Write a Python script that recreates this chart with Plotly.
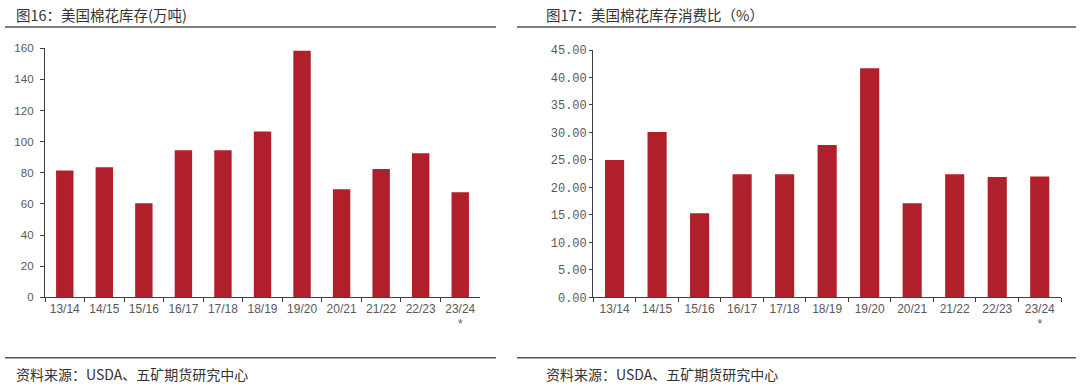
import plotly.graph_objects as go

categories = ["13/14", "14/15", "15/16", "16/17", "17/18", "18/19", "19/20", "20/21", "21/22", "22/23", "23/24"]
tick_labels = ["13/14", "14/15", "15/16", "16/17", "17/18", "18/19", "19/20", "20/21", "21/22", "22/23", "23/24<br>*"]
stocks = [81.5, 83.5, 60.5, 94.5, 94.5, 106.5, 158.5, 69.5, 82.5, 92.5, 67.5]
stock_use_ratio = [25.0, 30.1, 15.3, 22.4, 22.4, 27.7, 41.7, 17.1, 22.4, 21.9, 22.0]
y1_ticks = [0, 20, 40, 60, 80, 100, 120, 140, 160]
y2_ticks = [0, 5, 10, 15, 20, 25, 30, 35, 40, 45]
y2_tick_text = ["0.00", "5.00", "10.00", "15.00", "20.00", "25.00", "30.00", "35.00", "40.00", "45.00"]

W, H = 1080, 391
bar_color = "#B0202A"
axis_color = "#404040"
tick_font = dict(family="Liberation Sans, Arial, sans-serif", size=12, color="#595959")
cjk = "Noto Sans CJK SC"

fig = go.Figure()
fig.add_trace(go.Bar(x=categories, y=stocks, marker=dict(color=bar_color, line=dict(width=0)),
                     xaxis="x", yaxis="y", width=0.44))
fig.add_trace(go.Bar(x=categories, y=stock_use_ratio, marker=dict(color=bar_color, line=dict(width=0)),
                     xaxis="x2", yaxis="y2", width=0.45))

def px_x(p):
    return p / W

def px_y(p):
    return (H - p) / H

fig.update_layout(
    width=W, height=H, margin=dict(l=0, r=0, t=0, b=0, autoexpand=False),
    paper_bgcolor="white", plot_bgcolor="white", showlegend=False,
    xaxis=dict(domain=[px_x(45), px_x(480)], anchor="y", type="category",
               tickvals=categories, ticktext=tick_labels, tickson="boundaries",
               ticks="outside", ticklen=4, tickcolor=axis_color, showline=True,
               linecolor=axis_color, linewidth=1.3, tickfont=tick_font, showgrid=False,
               range=[-0.5, 10.5], automargin=False),
    yaxis=dict(domain=[px_y(297.3), px_y(48.3)], anchor="x", range=[0, 160],
               tickvals=y1_ticks, ticks="outside", ticklen=4, tickcolor=axis_color,
               showline=True, linecolor=axis_color, linewidth=1.3, showgrid=False,
               zeroline=False, tickfont=dict(tick_font, size=11.5), ticklabelstandoff=4,
               automargin=False),
    xaxis2=dict(domain=[px_x(593.3), px_x(1061)], anchor="y2", type="category",
                tickvals=categories, ticktext=tick_labels, tickson="boundaries",
                ticks="outside", ticklen=4, tickcolor=axis_color, showline=True,
                linecolor=axis_color, linewidth=1.3, tickfont=tick_font, showgrid=False,
                range=[-0.5, 10.5], automargin=False),
    yaxis2=dict(domain=[px_y(297.3), px_y(50)], anchor="x2", range=[0, 45],
                tickvals=y2_ticks, ticktext=y2_tick_text, ticks="outside", ticklen=3,
                tickcolor=axis_color, showline=True, linecolor=axis_color, linewidth=1.3,
                showgrid=False, zeroline=False, automargin=False,
                tickfont=dict(family="Liberation Mono, monospace", size=12, color="#595959")),
)

shapes = []
for x0, x1 in [(5, 496), (517, 1076)]:
    for yy in [27, 357.7]:
        shapes.append(dict(type="line", xref="paper", yref="paper",
                           x0=px_x(x0), x1=px_x(x1), y0=px_y(yy), y1=px_y(yy),
                           line=dict(color="#555555", width=1.5)))
fig.update_layout(shapes=shapes)

title_font = dict(family=cjk, size=14.5, color="#333333")
src_font = dict(family=cjk, size=14, color="#333333")
ann = [
    dict(text="图16：美国棉花库存(万吨)", x=px_x(14), y=px_y(15), font=title_font),
    dict(text="图17：美国棉花库存消费比（%）", x=px_x(544), y=px_y(15), font=title_font),
    dict(text="资料来源：USDA、五矿期货研究中心", x=px_x(14), y=px_y(374), font=src_font),
    dict(text="资料来源：USDA、五矿期货研究中心", x=px_x(544), y=px_y(374), font=src_font),
]
fig.update_layout(annotations=[dict(a, xref="paper", yref="paper", xanchor="left", yanchor="middle",
                                    showarrow=False) for a in ann])

fig.write_html("out.html", config={"displayModeBar": False},
               post_script="document.body.style.margin='0';document.body.style.padding='0';document.body.style.overflow='hidden';")
